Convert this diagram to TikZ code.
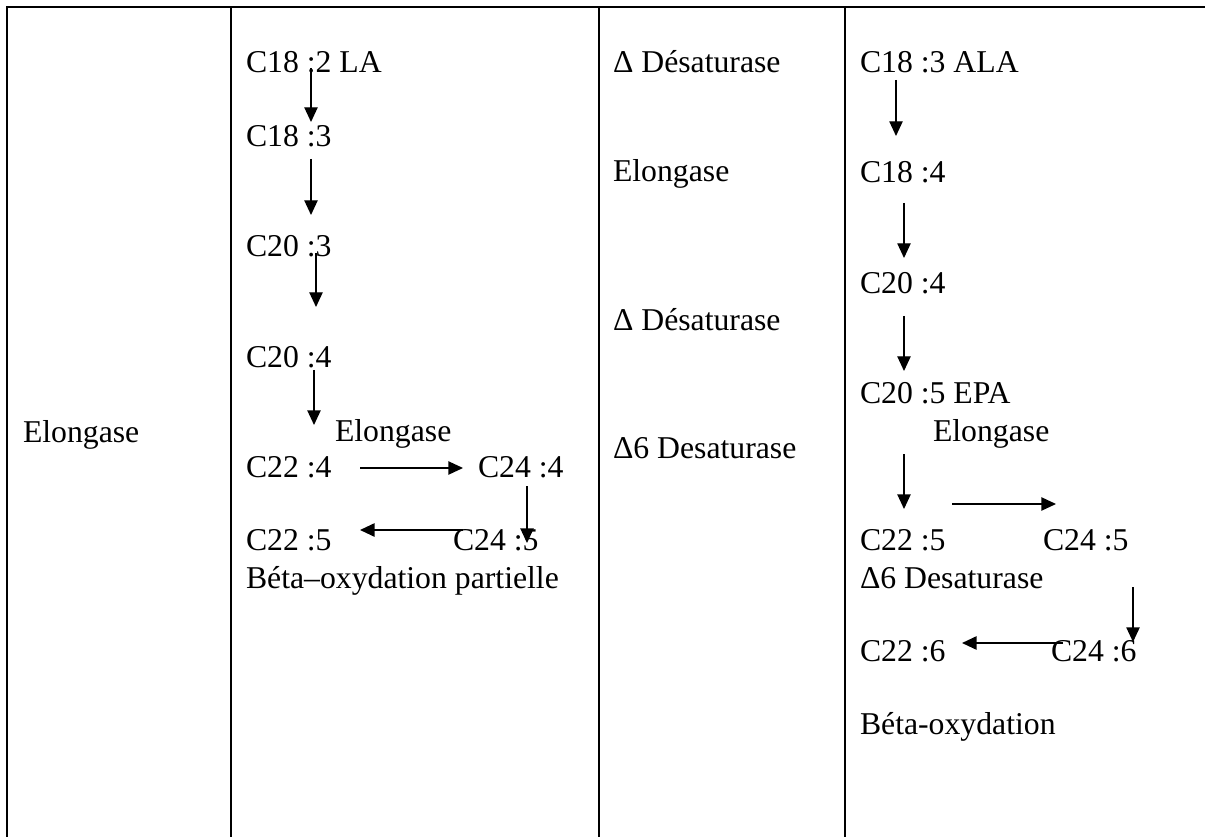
\documentclass[tikz,border=0pt]{standalone}
\usepackage{fontspec}
\setmainfont{Liberation Serif}
\usetikzlibrary{arrows.meta}
\begin{document}
\begin{tikzpicture}[x=0.75pt,y=-0.75pt,
  txt/.style={anchor=base west,inner sep=0pt,outer sep=0pt,font=\fontsize{23.8pt}{28pt}\selectfont},
  rule/.style={line width=1.8pt,line cap=rect},
  arr/.style={line width=1pt,-{Triangle[length=11pt,width=10pt]}},
  arrb/.style={line width=1.4pt,-{Triangle[length=11pt,width=10pt]}}]
\useasboundingbox (0,0) rectangle (1205,837);
% table rules
\coordinate (tl) at (7,7);
\coordinate (tr) at (1206,7);
\coordinate (v1t) at (7,7);   \coordinate (v1b) at (7,838);
\coordinate (v2t) at (231,7); \coordinate (v2b) at (231,838);
\coordinate (v3t) at (599,7); \coordinate (v3b) at (599,838);
\coordinate (v4t) at (845,7); \coordinate (v4b) at (845,838);
\draw[rule] (tl) -- (tr);
\draw[rule] (v1t) -- (v1b);
\draw[rule] (v2t) -- (v2b);
\draw[rule] (v3t) -- (v3b);
\draw[rule] (v4t) -- (v4b);
% column 1
\node[txt] (e1) at (23,442) {Elongase};
% column 2
\node[txt] (a1) at (246,73) {C18 :2 LA};
\node[txt] (a2) at (246,147) {C18 :3};
\node[txt] (a3) at (246,257) {C20 :3};
\node[txt] (a4) at (246,368) {C20 :4};
\node[txt] (ae) at (335,441) {Elongase};
\node[txt] (a5) at (246,477) {C22 :4};
\node[txt] (a6) at (478,477) {C24 :4};
\node[txt] (a7) at (246,550) {C22 :5};
\node[txt] (a8) at (453,550) {C24 :5};
\node[txt] (ab) at (246,588) {Béta–oxydation partielle};
\coordinate (p1s) at (311,68);  \coordinate (p1e) at (311,122);
\coordinate (p2s) at (311,159); \coordinate (p2e) at (311,215);
\coordinate (p3s) at (316,253); \coordinate (p3e) at (316,307);
\coordinate (p4s) at (314,370); \coordinate (p4e) at (314,425);
\coordinate (p5s) at (360,468); \coordinate (p5e) at (463,468);
\coordinate (p6s) at (527,486); \coordinate (p6e) at (527,543);
\coordinate (p7s) at (463,530); \coordinate (p7e) at (360,530);
\draw[arr] (p1s) -- (p1e);
\draw[arr] (p2s) -- (p2e);
\draw[arr] (p3s) -- (p3e);
\draw[arr] (p4s) -- (p4e);
\draw[arr] (p5s) -- (p5e);
\draw[arr] (p6s) -- (p6e);
\draw[arrb] (p7s) -- (p7e);
% column 3
\node[txt] (d1) at (613,73) {Δ Désaturase};
\node[txt] (d2) at (613,182) {Elongase};
\node[txt] (d3) at (613,331) {Δ Désaturase};
\node[txt] (d4) at (613,458) {Δ6 Desaturase};
% column 4
\node[txt] (b1) at (860,73) {C18 :3 ALA};
\node[txt] (b2) at (860,183) {C18 :4};
\node[txt] (b3) at (860,294) {C20 :4};
\node[txt] (b4) at (860,403) {C20 :5 EPA};
\node[txt] (be) at (933,441) {Elongase};
\node[txt] (b5) at (860,550) {C22 :5};
\node[txt] (b6) at (1043,550) {C24 :5};
\node[txt] (bd) at (860,588) {Δ6 Desaturase};
\node[txt] (b7) at (860,661) {C22 :6};
\node[txt] (b8) at (1051,661) {C24 :6};
\node[txt] (bb) at (860,734) {Béta-oxydation};
\coordinate (q1s) at (896,80);   \coordinate (q1e) at (896,136);
\coordinate (q2s) at (904,203);  \coordinate (q2e) at (904,258);
\coordinate (q3s) at (904,316);  \coordinate (q3e) at (904,371);
\coordinate (q4s) at (904,454);  \coordinate (q4e) at (904,509);
\coordinate (q5s) at (952,504);  \coordinate (q5e) at (1056,504);
\coordinate (q6s) at (1133,587); \coordinate (q6e) at (1133,642);
\coordinate (q7s) at (1063,643); \coordinate (q7e) at (962,643);
\draw[arr] (q1s) -- (q1e);
\draw[arr] (q2s) -- (q2e);
\draw[arr] (q3s) -- (q3e);
\draw[arr] (q4s) -- (q4e);
\draw[arr] (q5s) -- (q5e);
\draw[arr] (q6s) -- (q6e);
\draw[arrb] (q7s) -- (q7e);
\end{tikzpicture}
\end{document}
